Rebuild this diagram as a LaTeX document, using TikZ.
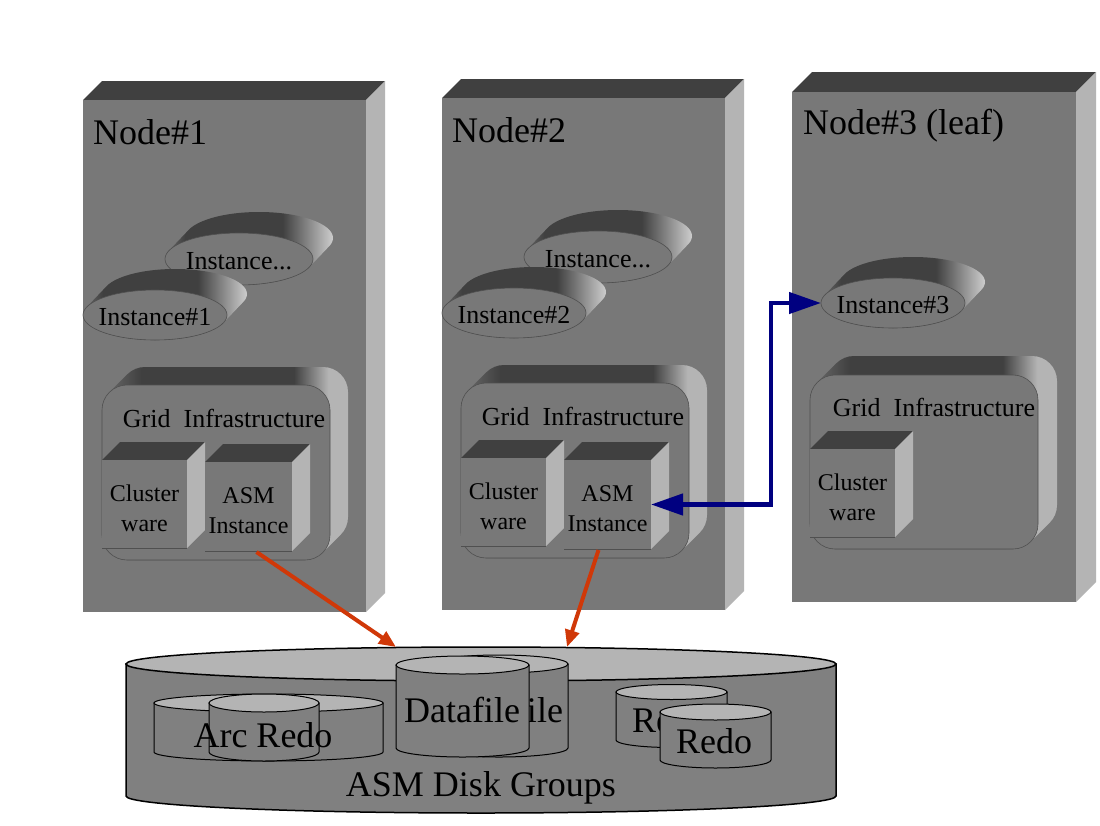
\documentclass[tikz,border=0pt]{standalone}
\usepackage{fontspec}
\setmainfont{Liberation Serif}
\usetikzlibrary{shapes.geometric,arrows.meta,calc}

\definecolor{frontc}{RGB}{120,120,120}
\definecolor{topc}{RGB}{64,64,64}
\definecolor{sidec}{RGB}{180,180,180}
\definecolor{midc}{RGB}{110,110,110}
\definecolor{lightc}{RGB}{205,205,205}
\definecolor{cylbodyc}{RGB}{128,128,128}
\definecolor{cyltopc}{RGB}{180,180,180}
\definecolor{navyc}{RGB}{0,0,128}
\definecolor{redc}{RGB}{208,56,8}
\definecolor{edgec}{RGB}{80,80,80}

\pgfdeclarehorizontalshading{giext}{100bp}{color(0bp)=(midc); color(25bp)=(midc); color(33bp)=(topc); color(64bp)=(topc); color(71bp)=(sidec); color(100bp)=(sidec)}
\pgfdeclarehorizontalshading{instext}{100bp}{color(0bp)=(midc); color(25bp)=(midc); color(31bp)=(topc); color(60bp)=(topc); color(75bp)=(lightc); color(100bp)=(lightc)}

\tikzset{
  slabfront/.style={rectangle, fill=frontc, inner sep=0pt, outer sep=0pt},
  cubefront/.style={rectangle, fill=frontc, inner sep=0pt, outer sep=0pt},
  gifront/.style={rectangle, fill=frontc, draw=edgec, line width=0.6pt, rounded corners=25pt, inner sep=0pt, outer sep=0pt},
  instfront/.style={ellipse, fill=frontc, draw=edgec, line width=0.6pt, inner sep=0pt, outer sep=0pt},
  cylbody/.style={fill=cylbodyc, draw=black, line width=1pt},
  cyltop/.style={ellipse, fill=cyltopc, draw=black, line width=1pt, inner sep=0pt, outer sep=0pt},
  bigtxt/.style={font=\fontsize{36}{40}\selectfont, inner sep=0pt},
  insttxt/.style={font=\fontsize{26}{30}\selectfont, inner sep=0pt},
  smalltxt/.style={font=\fontsize{24}{30}\selectfont, align=center, inner sep=0pt},
  redarr/.style={draw=redc, line width=4pt, -{Triangle[length=17pt,width=14pt]}},
  bluearr/.style={draw=navyc, line width=4.5pt, line join=miter, {Triangle[length=32pt,width=21pt]}-{Triangle[length=32pt,width=21pt]}}
}

% name x1 y1 x2 y2 d
\newcommand\slabbox[6]{%
  \fill[topc] (#2,#3) -- ({#2+#6},{#3-#6}) -- ({#4+#6},{#3-#6}) -- (#4,#3) -- cycle;
  \fill[sidec] (#4,#3) -- ({#4+#6},{#3-#6}) -- ({#4+#6},{#5-#6}) -- (#4,#5) -- cycle;
  \node[slabfront, minimum width={(#4-#2)*1pt}, minimum height={(#5-#3)*1pt}] (#1) at ({(#2+#4)/2},{(#3+#5)/2}) {};
}
% name x1 y1 x2 y2 d text
\newcommand\cubebox[7]{%
  \fill[topc] (#2,#3) -- ({#2+#6},{#3-#6}) -- ({#4+#6},{#3-#6}) -- (#4,#3) -- cycle;
  \fill[sidec] (#4,#3) -- ({#4+#6},{#3-#6}) -- ({#4+#6},{#5-#6}) -- (#4,#5) -- cycle;
  \node[cubefront, minimum width={(#4-#2)*1pt}, minimum height={(#5-#3)*1pt}] (#1) at ({(#2+#4)/2},{(#3+#5)/2}) {};
  \draw[edgec, line width=0.6pt] (#1.south west) -- (#1.south east);
  \node[smalltxt] (#1t) at ({(#2+#4)/2},{(#3+#5)/2+4}) {#7};
}
% name x1 y1 x2 y2 d
\newcommand\gibox[6]{%
  \shade[shading=giext, rounded corners=25pt] \foreach \t in {0,0.05,...,1.01} {({#2+\t*#6},{#3-\t*#6}) rectangle ({#4+\t*#6},{#5-\t*#6})};
  \node[gifront, minimum width={(#4-#2)*1pt}, minimum height={(#5-#3)*1pt}] (#1) at ({(#2+#4)/2},{(#3+#5)/2}) {};
}
% name cx cy rx ry text
\newcommand\instdisk[6]{%
  \shade[shading=instext] \foreach \t in {0,0.05,...,1.01} {({#2+\t*20},{#3-\t*21}) ellipse [x radius=#4, y radius=#5]};
  \node[instfront, minimum width={2*#4pt}, minimum height={2*#5pt}] (#1) at (#2,#3) {};
  \node[insttxt, anchor=base] (#1t) at (#2,{#3+10}) {#6};
}
% name cx ytop ybot rx ry style
\newcommand\cyl[7]{%
  \filldraw[cylbody,#7] ({#2-#5},#3) -- ({#2-#5},#4) arc[start angle=180, end angle=0, x radius=#5, y radius=#6] -- ({#2+#5},#3) -- cycle;
  \node[cyltop, #7, minimum width={2*#5pt}, minimum height={2*#6pt}] (#1) at (#2,#3) {};
}

\begin{document}
\begin{tikzpicture}[x=1pt, y=-1pt]
\fill[white] (0,0) rectangle (1100,825);
\useasboundingbox (0,0) rectangle (1100,825);

% ---------------- Node#1
\slabbox{n1}{83}{100}{366}{612}{19}
\node[bigtxt, anchor=base west] (n1t) at (93,144) {Node\#1};
\instdisk{i1b}{239}{259}{74}{26}{Instance...}
\instdisk{i1}{155}{315}{72}{25}{Instance\#1}
\gibox{g1}{102}{385}{330}{560}{18}
\node[insttxt, anchor=base] (g1t) at (224,427) {Grid~~Infrastructure};
\cubebox{c1}{102}{460}{187}{548}{18}{Cluster\\ware}
\cubebox{a1}{205}{462}{292}{551}{18}{ASM\\Instance}

% ---------------- Node#2
\begin{scope}[shift={(359,-2)}]
\slabbox{n2}{83}{100}{366}{612}{19}
\node[bigtxt, anchor=base west] (n2t) at (93,144) {Node\#2};
\instdisk{i2b}{239}{259}{74}{26}{Instance...}
\instdisk{i2}{155}{315}{72}{25}{Instance\#2}
\gibox{g2}{102}{385}{330}{560}{18}
\node[insttxt, anchor=base] (g2t) at (224,427) {Grid~~Infrastructure};
\cubebox{c2}{102}{460}{187}{548}{18}{Cluster\\ware}
\cubebox{a2}{205}{462}{292}{551}{18}{ASM\\Instance}
\end{scope}

% ---------------- Node#3
\slabbox{n3}{792}{92}{1076}{602}{20}
\node[bigtxt, anchor=base west] (n3t) at (803,134) {Node\#3 (leaf)};
\instdisk{i3}{893}{303}{72}{25}{Instance\#3}
\gibox{g3}{810}{375}{1038}{549}{19}
\node[insttxt, anchor=base] (g3t) at (934,416) {Grid~~Infrastructure};
\cubebox{c3}{810}{449}{895}{537}{18}{Cluster\\ware}

% ---------------- ASM Disk Groups
\cyl{dg}{481}{664}{796}{355}{17}{line width=1.5pt}
\cyl{arcb}{268.5}{703}{752}{114.5}{9}{}
\cyl{arcf}{264}{703}{752}{55}{9}{}
\node[bigtxt, anchor=base] (arct) at (263,747) {Arc Redo};
\cyl{dfb}{499}{664}{748}{69}{9}{}
\node[bigtxt, anchor=base] (dfbt) at (505,722) {Datafile};
\cyl{dff}{462.5}{665}{748}{66.5}{9}{}
\node[bigtxt, anchor=base] (dfft) at (462,722) {Datafile};
\cyl{rdb}{671.5}{692}{740}{55.5}{7.5}{}
\node[bigtxt, anchor=base] (rdbt) at (670,732) {Redo};
\cyl{rdf}{715.5}{712}{760}{55.5}{8}{}
\node[bigtxt, anchor=base] (rdft) at (714,753) {Redo};
\node[bigtxt, anchor=base] (dgt) at (481,796) {ASM Disk Groups};

% ---------------- connectors
\coordinate (r1a) at ($(a1.south)+(8,1)$);
\coordinate (r1b) at (396,647);
\coordinate (r2a) at ($(a2.south)+(-9,1)$);
\coordinate (r2b) at (567,647);
\draw[redarr] (r1a) -- (r1b);
\draw[redarr] (r2a) -- (r2b);
\coordinate (bcol) at (771,400);
\draw[bluearr] (a2.east) -- (a2.east -| bcol) |- (i3.west);
\end{tikzpicture}
\end{document}
